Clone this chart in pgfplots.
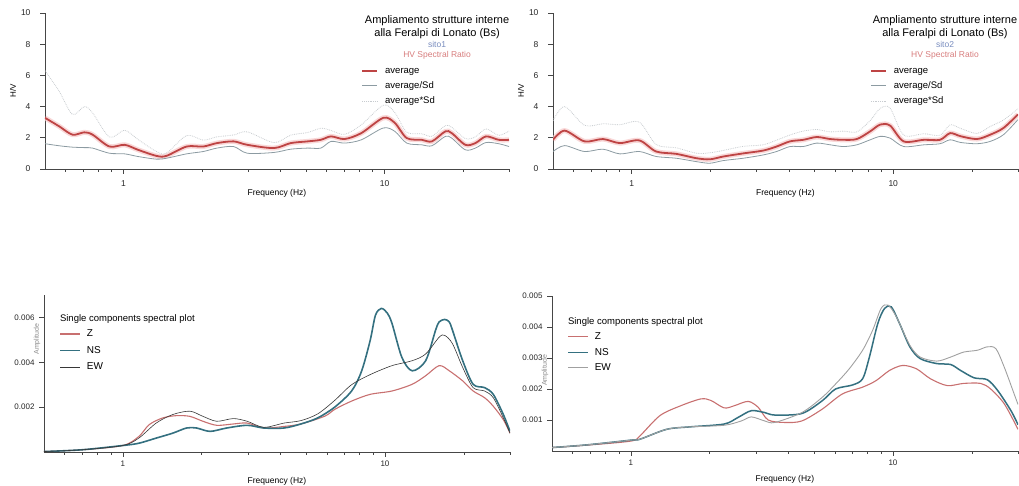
\documentclass[border=0pt]{standalone}
\usepackage{fontspec}
\setmainfont{Liberation Sans}
\usepackage{pgfplots}
\usepackage{pgfplotstable}
\pgfplotsset{compat=1.18}
\definecolor{avgred}{RGB}{190,68,68}
\definecolor{avghalo}{RGB}{246,200,200}
\definecolor{sdgray}{RGB}{140,155,162}
\definecolor{higray}{RGB}{200,204,208}
\definecolor{zred}{RGB}{200,112,112}
\definecolor{nsteal}{RGB}{52,112,128}
\definecolor{ewdark}{RGB}{55,55,55}
\definecolor{ewgray}{RGB}{160,160,160}
\definecolor{axisgray}{RGB}{70,70,70}
\definecolor{sitoblue}{RGB}{120,140,190}
\definecolor{hvred}{RGB}{215,125,125}

\pgfplotstableread{
f avg lo hi
0.5 3.28 1.62 6.3
0.566 2.74 1.49 5.0
0.637 2.20 1.40 3.5
0.707 2.35 1.37 4.0
0.761 2.20 1.34 3.6
0.883 1.44 1.01 2.05
1.01 1.55 0.97 2.48
1.136 1.23 0.80 1.89
1.337 0.84 0.63 1.12
1.46 0.84 0.69 1.02
1.745 1.44 0.97 2.14
2.02 1.44 1.12 1.85
2.28 1.66 1.34 2.06
2.64 1.77 1.44 2.18
2.98 1.55 1.01 2.38
3.77 1.34 1.06 1.69
4.37 1.66 1.27 2.17
5.08 1.77 1.34 2.34
5.7 1.87 1.34 2.61
6.24 2.09 1.77 2.47
7.03 1.92 1.66 2.22
8.15 2.30 1.87 2.83
9.9 3.28 2.63 4.09
10.96 2.95 2.41 3.61
12.17 1.98 1.66 2.36
13.9 1.87 1.55 2.26
15.2 1.77 1.49 2.10
17.1 2.41 2.09 2.78
18.1 2.30 1.98 2.67
20.4 1.55 1.23 1.95
22.3 1.66 1.34 2.06
24.5 2.09 1.70 2.57
27.4 1.87 1.62 2.16
30 1.87 1.44 2.43
}\sitoone

\pgfplotstableread{
f avg lo hi
0.5 1.87 1.12 3.1
0.554 2.46 1.50 4.0
0.66 1.77 1.12 2.8
0.776 1.92 1.27 2.9
0.9 1.66 0.97 2.84
1.07 1.83 1.12 3.0
1.24 1.12 0.80 1.57
1.48 0.97 0.69 1.36
1.77 0.69 0.47 1.01
1.99 0.62 0.37 1.04
2.24 0.80 0.54 1.19
2.67 1.00 0.69 1.45
3.18 1.18 0.90 1.55
3.58 1.44 1.12 1.85
4.03 1.77 1.44 2.18
4.53 1.87 1.44 2.43
5.10 2.05 1.66 2.53
5.74 1.92 1.55 2.38
6.45 1.87 1.44 2.43
7.26 1.92 1.55 2.38
8.16 2.41 1.87 3.1
8.92 2.85 2.09 3.89
9.73 2.78 1.98 3.9
10.96 1.77 1.44 2.18
13.1 1.87 1.55 2.26
15.1 1.87 1.62 2.16
16.5 2.30 1.87 2.83
18.1 2.10 1.70 2.6
20.9 1.92 1.62 2.28
23.5 2.20 1.77 2.73
26.4 2.63 2.20 3.14
30 3.50 3.17 3.86
}\sitotwo

\begin{document}
\begin{tikzpicture}
\path[use as bounding box] (0,0) rectangle (1019pt,486pt);

% ---------------- top left
\begin{axis}[at={(45pt,317pt)}, anchor=south west, scale only axis,
    width=464pt, height=156pt,
    xmode=log, xmin=0.5, xmax=30, ymin=0, ymax=10,
    axis lines=left, axis line style={-, axisgray, line width=0.7pt},
    xtick={1,10}, xticklabels={1,10},
    minor xtick={0.6,0.7,0.8,0.9,2,3,4,5,6,7,8,9,20,30},
    ytick={0,2,4,6,8,10}, yticklabels={0,2,4,6,8,10},
    tick align=outside, major tick length=5pt, minor tick length=3pt,
    tick style={axisgray, line width=0.6pt},
    tick label style={font=\fontsize{8.5}{10}\selectfont, text=black!85},
    yticklabel style={xshift=-6pt}, xticklabel style={yshift=-3pt},
    xlabel={Frequency (Hz)},
    xlabel style={font=\fontsize{8.5}{10}\selectfont, at={(axis description cs:0.5,0)}, anchor=center, yshift=-24pt},
    ylabel={H/V},
    ylabel style={font=\fontsize{8}{9}\selectfont, at={(axis description cs:0,0.5)}, yshift=32pt, anchor=center},
    legend image code/.code={\draw[#1] (0pt,0pt) -- (15pt,0pt); \path (20pt,0pt);},
    legend cell align=left,
    legend style={draw=none, fill=none, font=\fontsize{9.5}{10}\selectfont, row sep=3pt,
      at={(axis description cs:0.675,0.675)}, anchor=north west}]
\addplot[forget plot, avghalo, line width=5pt, opacity=0.7, smooth] table[x=f,y=avg] {\sitoone};
\addplot[avgred, line width=1.8pt, smooth] table[x=f,y=avg] {\sitoone};
\addlegendentry{average}
\addplot[sdgray, line width=0.8pt, smooth] table[x=f,y=lo] {\sitoone};
\addlegendentry{average/Sd}
\addplot[higray, line width=0.8pt, densely dotted, smooth] table[x=f,y=hi] {\sitoone};
\addlegendentry{average*Sd}
\node[anchor=north, align=center, font=\fontsize{11}{13}\selectfont, inner sep=0pt]
  at (axis description cs:0.845,0.985)
  {Ampliamento strutture interne\\alla Feralpi di Lonato (Bs)\\[-2.5pt]
   {\color{sitoblue}\fontsize{8.5}{9}\selectfont sito1}\\[-2.5pt]
   {\color{hvred}\fontsize{8.5}{9}\selectfont HV Spectral Ratio}};
\end{axis}

% ---------------- top right
\begin{axis}[at={(553pt,317pt)}, anchor=south west, scale only axis,
    width=465pt, height=156pt,
    xmode=log, xmin=0.5, xmax=30, ymin=0, ymax=10,
    axis lines=left, axis line style={-, axisgray, line width=0.7pt},
    xtick={1,10}, xticklabels={1,10},
    minor xtick={0.6,0.7,0.8,0.9,2,3,4,5,6,7,8,9,20,30},
    ytick={0,2,4,6,8,10}, yticklabels={0,2,4,6,8,10},
    tick align=outside, major tick length=5pt, minor tick length=3pt,
    tick style={axisgray, line width=0.6pt},
    tick label style={font=\fontsize{8.5}{10}\selectfont, text=black!85},
    yticklabel style={xshift=-6pt}, xticklabel style={yshift=-3pt},
    xlabel={Frequency (Hz)},
    xlabel style={font=\fontsize{8.5}{10}\selectfont, at={(axis description cs:0.5,0)}, anchor=center, yshift=-24pt},
    ylabel={H/V},
    ylabel style={font=\fontsize{8}{9}\selectfont, at={(axis description cs:0,0.5)}, yshift=32pt, anchor=center},
    legend image code/.code={\draw[#1] (0pt,0pt) -- (15pt,0pt); \path (20pt,0pt);},
    legend cell align=left,
    legend style={draw=none, fill=none, font=\fontsize{9.5}{10}\selectfont, row sep=3pt,
      at={(axis description cs:0.675,0.675)}, anchor=north west}]
\addplot[forget plot, avghalo, line width=5pt, opacity=0.7, smooth] table[x=f,y=avg] {\sitotwo};
\addplot[avgred, line width=1.8pt, smooth] table[x=f,y=avg] {\sitotwo};
\addlegendentry{average}
\addplot[sdgray, line width=0.8pt, smooth] table[x=f,y=lo] {\sitotwo};
\addlegendentry{average/Sd}
\addplot[higray, line width=0.8pt, densely dotted, smooth] table[x=f,y=hi] {\sitotwo};
\addlegendentry{average*Sd}
\node[anchor=north, align=center, font=\fontsize{11}{13}\selectfont, inner sep=0pt]
  at (axis description cs:0.843,0.985)
  {Ampliamento strutture interne\\alla Feralpi di Lonato (Bs)\\[-2.5pt]
   {\color{sitoblue}\fontsize{8.5}{9}\selectfont sito2}\\[-2.5pt]
   {\color{hvred}\fontsize{8.5}{9}\selectfont HV Spectral Ratio}};
\end{axis}

% ---------------- bottom left
\begin{axis}[at={(44pt,34pt)}, anchor=south west, scale only axis,
    width=466pt, height=157pt,
    xmode=log, xmin=0.5, xmax=30, ymin=0, ymax=0.007,
    axis lines=left, axis line style={-, axisgray, line width=0.7pt},
    xtick={1,10}, xticklabels={1,10},
    minor xtick={0.6,0.7,0.8,0.9,2,3,4,5,6,7,8,9,20,30},
    scaled y ticks=false,
    ytick={0.002,0.004,0.006}, yticklabels={0.002,0.004,0.006},
    tick align=outside, major tick length=5pt, minor tick length=3pt,
    tick style={axisgray, line width=0.6pt},
    tick label style={font=\fontsize{8}{9}\selectfont, text=black!85},
    yticklabel style={xshift=-1pt},
    xlabel={Frequency (Hz)},
    xlabel style={font=\fontsize{8.5}{10}\selectfont, at={(axis description cs:0.5,0)}, anchor=center, yshift=-29pt},
    ylabel={Amplitude},
    ylabel style={font=\fontsize{7}{8}\selectfont, text=black!45, at={(axis description cs:-0.015,0.72)}, anchor=center},
    legend image code/.code={\draw[#1] (0pt,0pt) -- (20pt,0pt); \path (24pt,0pt);},
    legend cell align=left,
    legend style={draw=none, fill=none, font=\fontsize{10}{11}\selectfont, row sep=4pt,
      at={(axis description cs:0.026,0.805)}, anchor=north west}]
\addplot[zred, line width=1.1pt, smooth] coordinates {
(0.5,0.00002)(0.7,0.0001)(1.0,0.00029)(1.15,0.00069)(1.26,0.00122)(1.42,0.00152)(1.6,0.00162)(1.8,0.00159)(2.02,0.00137)(2.28,0.00119)(2.64,0.00125)(2.98,0.00129)(3.45,0.00107)(4.12,0.00114)(4.78,0.00125)(5.9,0.00160)(6.43,0.0019)(7.46,0.00227)(8.78,0.00257)(10.64,0.00272)(12.7,0.00302)(14.3,0.0034)(16.1,0.00385)(17.6,0.00362)(19.8,0.00317)(21.7,0.00272)(24,0.00242)(25.9,0.00204)(28.3,0.00144)(30,0.00084)};
\addlegendentry{Z}
\addplot[nsteal, line width=1.6pt, smooth] coordinates {
(0.5,0.00002)(0.7,0.0001)(1.0,0.00029)(1.15,0.00039)(1.34,0.00062)(1.55,0.00084)(1.75,0.00107)(1.91,0.00107)(2.15,0.00092)(2.49,0.00107)(2.98,0.00119)(3.45,0.00107)(4.12,0.00107)(4.78,0.00125)(5.54,0.00152)(6.43,0.002)(7.46,0.00272)(8.14,0.0036)(8.78,0.00497)(9.2,0.0061)(9.68,0.0064)(10.2,0.0062)(10.64,0.00573)(11.6,0.00422)(12.7,0.00362)(14.3,0.00407)(15.6,0.00543)(16.1,0.0058)(16.9,0.00591)(17.6,0.0058)(18.1,0.00543)(19.8,0.00407)(21.7,0.00302)(24,0.00287)(25.9,0.00257)(28.3,0.00167)(30,0.00092)};
\addlegendentry{NS}
\addplot[ewdark, line width=0.6pt, smooth] coordinates {
(0.5,0.00002)(0.7,0.0001)(1.0,0.00029)(1.15,0.00062)(1.34,0.00129)(1.55,0.00167)(1.8,0.00182)(2.02,0.00159)(2.28,0.00137)(2.64,0.00149)(2.98,0.00137)(3.45,0.0011)(4.12,0.00129)(4.78,0.0014)(5.54,0.0017)(6.43,0.0023)(7.46,0.0030)(8.78,0.00345)(10.64,0.00385)(12.7,0.00407)(14.3,0.00437)(16.1,0.00512)(16.9,0.0052)(18.1,0.00483)(19.8,0.00377)(21.7,0.00287)(24,0.00272)(25.9,0.00242)(28.3,0.00152)(30,0.00084)};
\addlegendentry{EW}
\node[anchor=west, font=\fontsize{9.5}{10}\selectfont, inner sep=0pt] at (axis description cs:0.034,0.847) {Single components spectral plot};
\end{axis}

% ---------------- bottom right
\begin{axis}[at={(552pt,35pt)}, anchor=south west, scale only axis,
    width=466pt, height=155pt,
    xmode=log, xmin=0.5, xmax=30, ymin=0, ymax=0.005,
    axis lines=left, axis line style={-, axisgray, line width=0.7pt},
    xtick={1,10}, xticklabels={1,10},
    minor xtick={0.6,0.7,0.8,0.9,2,3,4,5,6,7,8,9,20,30},
    scaled y ticks=false,
    ytick={0.001,0.002,0.003,0.004,0.005}, yticklabels={0.001,0.002,0.003,0.004,0.005},
    tick align=outside, major tick length=5pt, minor tick length=3pt,
    tick style={axisgray, line width=0.6pt},
    tick label style={font=\fontsize{8}{9}\selectfont, text=black!85},
    yticklabel style={xshift=-1pt},
    xlabel={Frequency (Hz)},
    xlabel style={font=\fontsize{8.5}{10}\selectfont, at={(axis description cs:0.5,0)}, anchor=center, yshift=-28pt},
    ylabel={Amplitude},
    ylabel style={font=\fontsize{7}{8}\selectfont, text=black!45, at={(axis description cs:-0.015,0.52)}, anchor=center},
    legend image code/.code={\draw[#1] (0pt,0pt) -- (20pt,0pt); \path (24pt,0pt);},
    legend cell align=left,
    legend style={draw=none, fill=none, font=\fontsize{10}{11}\selectfont, row sep=3pt,
      at={(axis description cs:0.026,0.79)}, anchor=north west}]
\addplot[zred, line width=1.1pt, smooth] coordinates {
(0.5,0.00011)(0.684,0.00019)(1.0,0.00032)(1.083,0.00049)(1.29,0.00114)(1.55,0.00146)(1.85,0.00168)(2.02,0.00163)(2.27,0.00139)(2.48,0.00146)(2.8,0.0016)(3.06,0.00141)(3.34,0.001)(3.87,0.00092)(4.49,0.00097)(5.37,0.00135)(6.41,0.00184)(7.66,0.00206)(8.62,0.00227)(9.71,0.0026)(10.9,0.00276)(12.3,0.00265)(13.9,0.00233)(16.1,0.00211)(18.6,0.00218)(21.6,0.00218)(23.6,0.002)(26.6,0.00152)(30,0.0007)};
\addlegendentry{Z}
\addplot[nsteal, line width=1.5pt, smooth] coordinates {
(0.5,0.00011)(0.684,0.0002)(1.0,0.00035)(1.083,0.00038)(1.37,0.0007)(1.69,0.00078)(2.27,0.00087)(2.56,0.00108)(2.88,0.0013)(3.24,0.00124)(3.54,0.00116)(4.49,0.00121)(5.37,0.00162)(6.04,0.002)(7.01,0.00213)(7.66,0.00233)(8.13,0.00303)(8.75,0.00411)(9.29,0.0046)(9.85,0.00465)(10.6,0.00411)(11.6,0.00336)(12.7,0.00298)(14.7,0.00282)(16.6,0.00279)(18.1,0.0026)(20.4,0.00236)(22.9,0.0023)(25.1,0.00195)(28.2,0.0013)(30,0.00085)};
\addlegendentry{NS}
\addplot[ewgray, line width=0.9pt, smooth] coordinates {
(0.5,0.00011)(0.684,0.0002)(1.0,0.00035)(1.083,0.00038)(1.37,0.0007)(1.69,0.00078)(2.27,0.00083)(2.64,0.00097)(2.88,0.0011)(3.24,0.00097)(3.54,0.00092)(4.49,0.00124)(5.37,0.00173)(6.04,0.00216)(6.81,0.00265)(7.66,0.00325)(8.37,0.0039)(9.01,0.0046)(9.57,0.00471)(10.3,0.00433)(11.6,0.00341)(12.7,0.00303)(14.7,0.0029)(16.6,0.00303)(18.6,0.00319)(21,0.00325)(22.9,0.00336)(24.7,0.0033)(26.6,0.0027)(29,0.00184)(30,0.0015)};
\addlegendentry{EW}
\node[anchor=west, font=\fontsize{9.5}{10}\selectfont, inner sep=0pt] at (axis description cs:0.034,0.83) {Single components spectral plot};
\end{axis}
\end{tikzpicture}
\end{document}
